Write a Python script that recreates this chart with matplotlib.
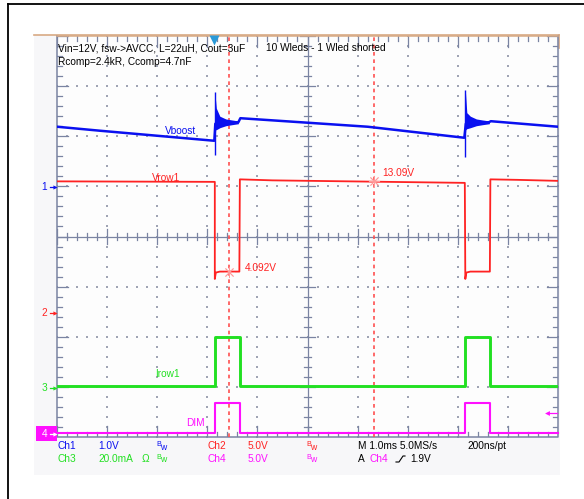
import matplotlib
matplotlib.use('Agg')
import matplotlib.pyplot as plt
from matplotlib.patches import Rectangle

plt.rcParams['font.family'] = ['Liberation Sans', 'DejaVu Sans']

W, H = 584, 499

# ---- scope settings: volts (or mA) per division, ground marker in div from centre
CH_SCALE = {1: 1.0, 2: 5.0, 3: 20.0, 4: 5.0}
CH_GROUND = {1: 1.0, 2: -1.52, 3: -3.0, 4: -3.93}

# ---- Ch1 Vboost (V), time in ms
vboost_t = [0.0, 0.86, 3.14, 3.16, 3.62, 3.66, 6.2, 8.13, 8.16, 8.62, 8.66, 10.0]
vboost_v = [1.19, 1.11, 0.91, 1.25, 1.28, 1.36, 1.19, 0.97, 1.25, 1.28, 1.30, 1.19]
spike_t = [3.15, 8.15]
spike_lo = [0.63, 0.59]
spike_hi = [1.88, 1.92]
ring1_t = [3.15, 3.18, 3.25, 3.37, 3.49, 3.62]
ring1_hi = [1.88, 1.56, 1.40, 1.345, 1.325, 1.305]
ring1_lo = [1.13, 1.13, 1.17, 1.21, 1.23, 1.25]
ring2_t = [8.15, 8.18, 8.25, 8.37, 8.49, 8.63]
ring2_hi = [1.92, 1.47, 1.40, 1.345, 1.325, 1.305]
ring2_lo = [1.13, 1.15, 1.17, 1.21, 1.23, 1.25]

# ---- Ch2 Vrow1 (V)
vrow_t = [0.0, 3.15, 3.15, 3.17, 3.25, 3.64, 3.65, 4.3, 8.14, 8.15, 8.17, 8.25, 8.64, 8.65, 9.2, 10.0]
vrow_v = [13.1, 13.05, 3.36, 4.0, 4.1, 4.1, 13.3, 13.2, 12.95, 3.36, 4.0, 4.1, 4.1, 13.3, 13.25, 13.15]

# ---- Ch3 Irow1 (mA)
irow_t = [0.0, 3.15, 3.15, 3.65, 3.65, 8.15, 8.15, 8.65, 8.65, 10.0]
irow_ma = [0.4, 0.4, 20.0, 20.0, 0.4, 0.4, 20.0, 20.0, 0.4, 0.4]

# ---- Ch4 DIM (V)
dim_t = [0.0, 3.15, 3.15, 3.65, 3.65, 8.15, 8.15, 8.65, 8.65, 10.0]
dim_v = [0.0, 0.0, 3.0, 3.0, 0.0, 0.0, 3.0, 3.0, 0.0, 0.0]

# ---- cursors (Ch2)
cursor_t = [3.43, 6.33]
cursor_v = [4.092, 13.09]
trigger_t = 3.14

BLUE = '#0a10f0'
RED = '#ff2222'
GREEN = '#22e022'
MAG = '#ff10ff'
GRID = '#7a84a2'
DOT = '#a0a4b4'


def to_div(ch, vals):
    return [CH_GROUND[ch] + v / CH_SCALE[ch] for v in vals]


fig = plt.figure(figsize=(W / 100, H / 100), dpi=100)

# background / pixel axes
bg = fig.add_axes([0, 0, 1, 1], zorder=0)
bg.set_xlim(0, W)
bg.set_ylim(H, 0)
bg.axis('off')
bg.add_patch(Rectangle((34, 35), 526, 440, facecolor='#f7f7f9', edgecolor='none'))
bg.plot([34, 559], [35, 35], color='#d8aa84', lw=1.2)
bg.plot([559, 559], [35, 48], color='#d8aa84', lw=1.2)
bg.plot([8, 8], [4, H], color='black', lw=1.3)
bg.plot([8, W], [4, 4], color='black', lw=1.3)

# scope graticule axes: x = ms (1 ms/div), y = divisions
ax = fig.add_axes([57 / W, 1 - 437 / H, 501 / W, 401 / H], zorder=1)
ax.set_xlim(0, 10)
ax.set_ylim(-4, 4)
ax.axis('off')
ax.add_patch(Rectangle((0, -4), 10, 8, facecolor='#fdfdfd', edgecolor='none', zorder=0))

# dotted grid
dx = [i * 0.2 for i in range(51)]
dy = [-4 + i * 0.2 for i in range(41)]
for k in range(1, 10):
    if k != 5:
        ax.scatter([k] * len(dy), dy, s=0.8, marker='s', color=DOT, linewidths=0, zorder=1)
for k in range(-3, 4):
    if k != 0:
        ax.scatter(dx, [k] * len(dx), s=0.8, marker='s', color=DOT, linewidths=0, zorder=1)

# centre axes with ticks
ax.plot([0, 10], [0, 0], color=GRID, lw=0.9, zorder=2)
ax.plot([5, 5], [-4, 4], color=GRID, lw=0.9, zorder=2)
for i, x in enumerate(dx):
    h = 0.15 if i % 5 == 0 else 0.07
    ax.plot([x, x], [-h, h], color=GRID, lw=0.9, zorder=2)
    ax.plot([x, x], [4, 4 - (0.22 if i % 5 == 0 else 0.1)], color=GRID, lw=0.9, zorder=2)
    ax.plot([x, x], [-4, -4 + (0.22 if i % 5 == 0 else 0.1)], color=GRID, lw=0.9, zorder=2)
for i, y in enumerate(dy):
    h = 0.15 if i % 5 == 0 else 0.07
    ax.plot([5 - h, 5 + h], [y, y], color=GRID, lw=0.9, zorder=2)
    ax.plot([0, 0.22 if i % 5 == 0 else 0.1], [y, y], color=GRID, lw=0.9, zorder=2)
    ax.plot([10, 10 - (0.22 if i % 5 == 0 else 0.1)], [y, y], color=GRID, lw=0.9, zorder=2)
ax.plot([0, 0, 10, 10], [4, -4, -4, 4], color=GRID, lw=1.1, zorder=2, clip_on=False)
ax.plot([0, 10], [4, 4], color='#d8aa84', lw=1.1, zorder=2, clip_on=False)

# traces
ax.fill_between(ring1_t, to_div(1, ring1_lo), to_div(1, ring1_hi), color=BLUE, lw=0, zorder=4)
ax.fill_between(ring2_t, to_div(1, ring2_lo), to_div(1, ring2_hi), color=BLUE, lw=0, zorder=4)
ax.vlines(spike_t, to_div(1, spike_lo), to_div(1, spike_hi), color=BLUE, lw=1.0, zorder=4)
ax.plot(vboost_t, to_div(1, vboost_v), color=BLUE, lw=1.8, zorder=4)
ax.plot(vrow_t, to_div(2, vrow_v), color=RED, lw=1.3, zorder=4)
ax.plot(irow_t, to_div(3, irow_ma), color=GREEN, lw=2.1, zorder=4)
ax.plot(dim_t, to_div(4, dim_v), color=MAG, lw=1.5, zorder=5, clip_on=False)

# cursors
for t, v in zip(cursor_t, cursor_v):
    ax.plot([t, t], [-4, 4], color='#ff5050', lw=1.2, ls=(0, (2.2, 2.2)), zorder=3)
    ax.plot(t, to_div(2, [v])[0], marker=(8, 2, 0), ms=8, mew=0.6, color='#ff9a9a', zorder=6)

# trigger position marker
ax.plot(trigger_t, 3.93, marker='v', ms=7, color='#2a9ad8', mec='none', zorder=7, clip_on=False)

# ---- overlay for text and channel markers (pixel coords)
fg = fig.add_axes([0, 0, 1, 1], zorder=3)
fg.set_xlim(0, W)
fg.set_ylim(H, 0)
fg.axis('off')
fg.patch.set_alpha(0)

FS = 7.3


def txt(x, y, s, c='black', fs=FS, **kw):
    fg.text(x, y, s, color=c, fontsize=fs, ha='left', va='center', **kw)


txt(58, 48, 'Vin=12V, fsw->AVCC, L=22uH, Cout=3uF')
txt(58, 62, 'Rcomp=2.4kR, Ccomp=4.7nF')
txt(266, 48, '10 Wleds - 1 Wled shorted')

txt(165, 131, 'Vboost', BLUE)
txt(152, 178, 'Vrow1', RED)
txt(155, 374, 'Irow1', GREEN)
txt(186, 423, 'DIM', MAG)
txt(245, 268, '4.092V', RED)
txt(382, 173, '13.09V', RED)


def arrow_marker(y, label, c):
    fg.text(47, y, label, color=c, fontsize=FS, ha='right', va='center')
    fg.plot([50, 55], [y, y], color=c, lw=0.9)
    fg.plot(55, y, marker='>', ms=3, color=c, mec='none')


arrow_marker(187, '1', BLUE)
arrow_marker(313, '2', RED)
arrow_marker(388, '3', GREEN)
fg.add_patch(Rectangle((36, 426), 21, 15, facecolor=MAG, edgecolor='none'))
arrow_marker(434, '4', 'white')

# trigger level arrow on right
fg.plot([547, 557], [413, 413], color=MAG, lw=0.9)
fg.plot(547, 413, marker='<', ms=3.5, color=MAG, mec='none')


def bw(x, y, c):
    fg.text(x, y - 1.5, 'B', color=c, fontsize=5.2, ha='left', va='center')
    fg.text(x + 4.2, y + 1, 'w', color=c, fontsize=6.2, ha='left', va='center')


r1, r2 = 446, 459
txt(58, r1, 'Ch1', BLUE)
txt(98, r1, '1.0V', BLUE)
bw(156, r1, BLUE)
txt(208, r1, 'Ch2', RED)
txt(248, r1, '5.0V', RED)
bw(306, r1, RED)
txt(358, r1, 'M 1.0ms 5.0MS/s')
txt(467, r1, '200ns/pt')

txt(58, r2, 'Ch3', GREEN)
txt(98, r2, '20.0mA', GREEN)
txt(142, r2, 'Ω', GREEN)
bw(156, r2, GREEN)
txt(208, r2, 'Ch4', MAG)
txt(248, r2, '5.0V', MAG)
bw(306, r2, MAG)
txt(358, r2, 'A')
txt(370, r2, 'Ch4', MAG)
fg.plot([396, 399, 403, 405], [r2 + 3, r2 + 3, r2 - 3, r2 - 3], color='black', lw=0.8)
txt(410, r2, '1.9V')

fig.savefig('out.png', dpi=100)
